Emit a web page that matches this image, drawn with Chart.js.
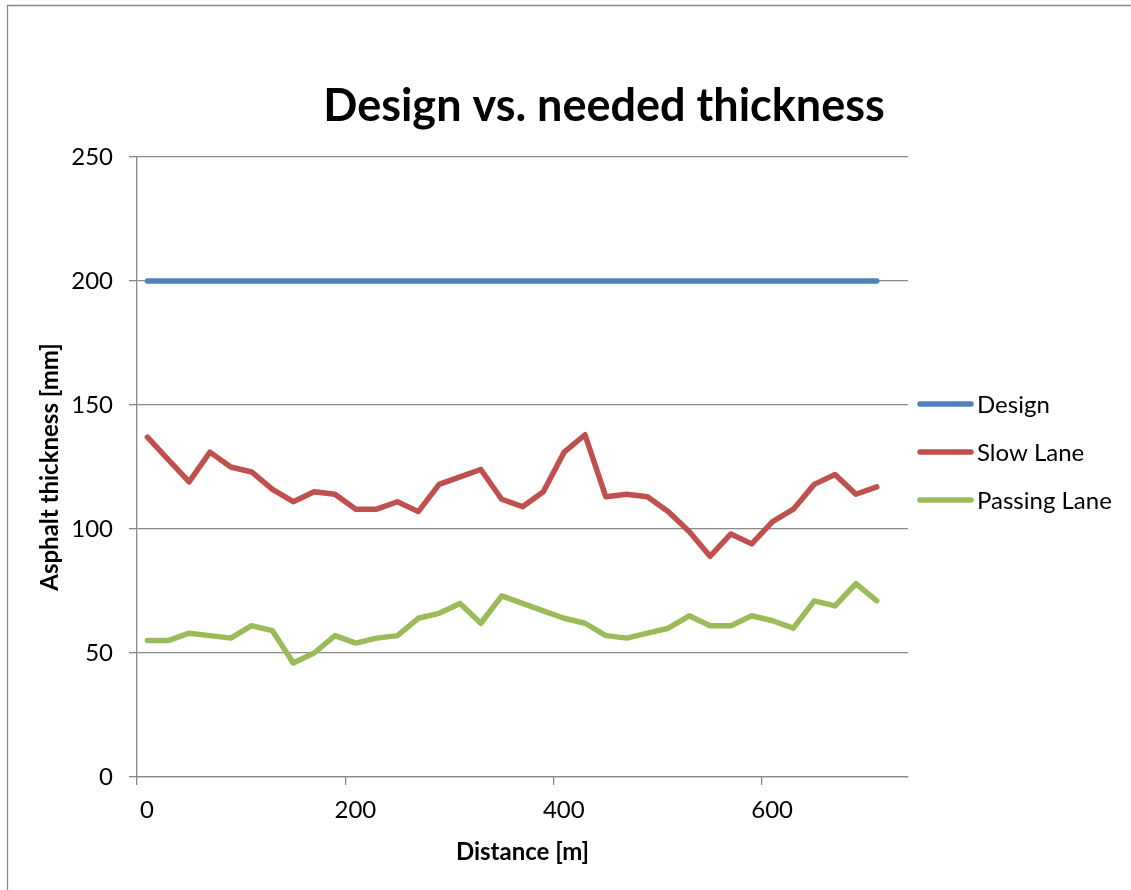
<!DOCTYPE html>
<html>
<head>
<meta charset="utf-8">
<title>Design vs. needed thickness</title>
<script src="https://cdn.jsdelivr.net/npm/chart.js@4.4.1/dist/chart.umd.min.js"></script>
<style>
  html, body { margin: 0; padding: 0; background: #ffffff; }
  canvas { display: block; }
</style>
</head>
<body>
<canvas id="chart" width="1131" height="890"></canvas>
<script>
// Measurement stations along the road [m]
const distances = [10, 30, 50, 70, 90, 110, 130, 150, 170, 190, 210, 230, 250, 270, 290, 310, 330, 350,
                   370, 390, 410, 430, 450, 470, 490, 510, 530, 550, 570, 590, 610, 630, 650, 670, 690, 710];

// Asphalt thickness [mm]
const designThickness = [200, 200, 200, 200, 200, 200, 200, 200, 200, 200, 200, 200, 200, 200, 200, 200, 200, 200,
                         200, 200, 200, 200, 200, 200, 200, 200, 200, 200, 200, 200, 200, 200, 200, 200, 200, 200];
const slowLane = [137, 128, 119, 131, 125, 123, 116, 111, 115, 114, 108, 108, 111, 107, 118, 121, 124, 112,
                  109, 115, 131, 138, 113, 114, 113, 107, 99, 89, 98, 94, 103, 108, 118, 122, 114, 117];
const passingLane = [55, 55, 58, 57, 56, 61, 59, 46, 50, 57, 54, 56, 57, 64, 66, 70, 62, 73,
                     70, 67, 64, 62, 57, 56, 58, 60, 65, 61, 61, 65, 63, 60, 71, 69, 78, 71];

const seriesNames = ['Design', 'Slow Lane', 'Passing Lane'];
const xTicks = [0, 200, 400, 600];
const yTicks = [0, 50, 100, 150, 200, 250];

const FONT = 'Lato, "Open Sans", sans-serif';
const GRID = '#898989';

function toPoints(values) {
  return distances.map((d, i) => ({ x: d, y: values[i] }));
}

function lineStyle(color) {
  return {
    borderColor: color,
    backgroundColor: color,
    borderWidth: 5.5,
    borderCapStyle: 'round',
    borderJoinStyle: 'round',
    pointRadius: 0,
    pointHoverRadius: 0,
    tension: 0,
    fill: false
  };
}

// Frame, title and the series key drawn straight onto the canvas
const decorations = {
  id: 'decorations',
  beforeDraw(chart) {
    const ctx = chart.ctx;
    ctx.save();
    ctx.strokeStyle = GRID;
    ctx.lineWidth = 1.3;
    ctx.beginPath();
    ctx.moveTo(7.5, 890);
    ctx.lineTo(7.5, 5.5);
    ctx.lineTo(1131, 5.5);
    ctx.stroke();
    ctx.restore();
  },
  afterDraw(chart) {
    const ctx = chart.ctx;
    ctx.save();
    ctx.fillStyle = '#000000';
    ctx.font = 'bold 45px ' + FONT;
    ctx.textAlign = 'center';
    ctx.textBaseline = 'alphabetic';
    ctx.fillText('Design vs. needed thickness', 604, 121);

    const keyY = [404, 452, 500];
    chart.data.datasets.forEach((ds, i) => {
      ctx.strokeStyle = ds.borderColor;
      ctx.lineWidth = 5.5;
      ctx.lineCap = 'round';
      ctx.beginPath();
      ctx.moveTo(920, keyY[i]);
      ctx.lineTo(971, keyY[i]);
      ctx.stroke();
      ctx.fillStyle = '#000000';
      ctx.font = '24px ' + FONT;
      ctx.textAlign = 'left';
      ctx.textBaseline = 'middle';
      ctx.fillText(ds.label, 977, keyY[i] + 1);
    });
    ctx.restore();
  }
};

new Chart(document.getElementById('chart'), {
  type: 'line',
  data: {
    datasets: [
      Object.assign({ label: seriesNames[0], data: toPoints(designThickness) }, lineStyle('#4F81BD')),
      Object.assign({ label: seriesNames[1], data: toPoints(slowLane) }, lineStyle('#C0504D')),
      Object.assign({ label: seriesNames[2], data: toPoints(passingLane) }, lineStyle('#9BBB59'))
    ]
  },
  options: {
    responsive: false,
    animation: false,
    devicePixelRatio: 1,
    layout: { padding: { left: 0, top: 157, right: 223, bottom: 0 } },
    plugins: {
      legend: { display: false },
      title: { display: false },
      tooltip: { enabled: false }
    },
    scales: {
      x: {
        type: 'linear',
        min: 0,
        max: 740,
        afterFit(scale) { scale.height = 113; },
        afterBuildTicks(scale) { scale.ticks = xTicks.map(v => ({ value: v })); },
        grid: {
          drawOnChartArea: false,
          drawTicks: true,
          tickLength: 8,
          color: GRID,
          lineWidth: 1.3
        },
        border: { display: true, color: GRID, width: 1.3 },
        ticks: {
          color: '#000000',
          font: { family: FONT, size: 24 },
          padding: 11,
          labelOffset: 10,
          maxRotation: 0,
          autoSkip: false
        },
        title: {
          display: true,
          text: 'Distance [m]',
          color: '#000000',
          font: { family: FONT, size: 24, weight: 'bold' },
          padding: { top: 0, bottom: 23 }
        }
      },
      y: {
        type: 'linear',
        min: 0,
        max: 250,
        afterFit(scale) { scale.width = 137; },
        afterBuildTicks(scale) { scale.ticks = yTicks.map(v => ({ value: v })); },
        grid: {
          drawOnChartArea: true,
          drawTicks: true,
          tickLength: 8,
          color: GRID,
          lineWidth: 1.3
        },
        border: { display: true, color: GRID, width: 1.3 },
        ticks: {
          color: '#000000',
          font: { family: FONT, size: 24 },
          padding: 16
        },
        title: {
          display: true,
          text: 'Asphalt thickness [mm]',
          color: '#000000',
          font: { family: FONT, size: 24, weight: 'bold' },
          padding: { top: 36, bottom: 0 }
        }
      }
    }
  },
  plugins: [decorations]
});
</script>
</body>
</html>
